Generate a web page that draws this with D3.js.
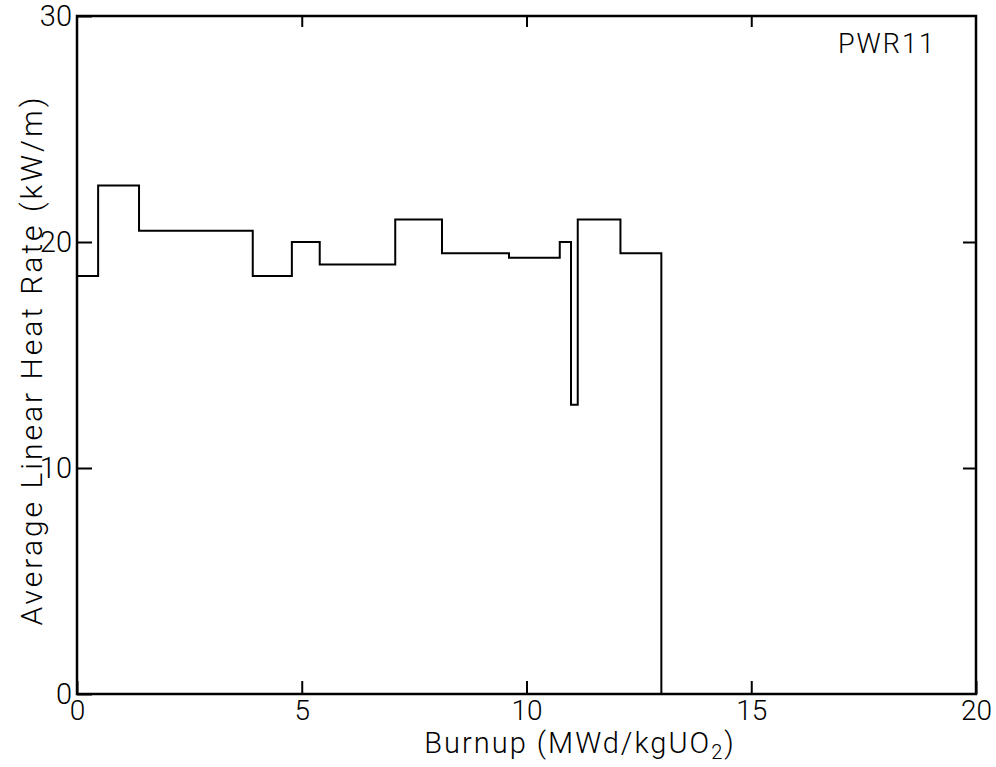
<!DOCTYPE html>
<html>
<head>
<meta charset="utf-8">
<script src="https://cdn.jsdelivr.net/npm/d3@7"></script>
<style>
  body { margin: 0; background: #fff; }
  svg text { font-family: Roboto, "DejaVu Sans", sans-serif; font-weight: 300; fill: #000; }
</style>
</head>
<body>
<svg id="chart" width="996" height="767"></svg>
<script>
// burnup step edges (MWd/kgUO2) and heat rate in each step (kW/m)
const burnupEdges = [0, 0.47, 1.38, 3.91, 4.78, 5.40, 7.08, 8.12, 9.61, 10.74, 10.99, 11.14, 12.09, 13.0];
const heatRates = [18.5, 22.5, 20.5, 18.5, 20.0, 19.0, 21.0, 19.5, 19.3, 20.0, 12.8, 21.0, 19.5];
const xTicks = [0, 5, 10, 15, 20];
const yTicks = [0, 10, 20, 30];

const LEFT = 77, RIGHT = 976, TOP = 16, BOTTOM = 694;

const svg = d3.select('#chart');
const x = d3.scaleLinear().domain([0, 20]).range([LEFT, RIGHT]);
const y = d3.scaleLinear().domain([0, 30]).range([BOTTOM, TOP]);

// bottom axis, ticks pointing up
svg.append('g')
  .attr('transform', 'translate(0,' + BOTTOM + ')')
  .call(d3.axisBottom(x).tickValues(xTicks).tickSize(-13).tickSizeOuter(0).tickPadding(6))
  .call(g => g.select('.domain').remove())
  .call(g => g.selectAll('.tick line').attr('stroke-width', 2))
  .call(g => g.selectAll('.tick text').attr('font-size', 28));

// top axis ticks
svg.append('g')
  .attr('transform', 'translate(0,' + TOP + ')')
  .call(d3.axisTop(x).tickValues(xTicks.slice(1, 4)).tickSize(-11).tickFormat(''))
  .call(g => g.select('.domain').remove())
  .call(g => g.selectAll('.tick line').attr('stroke-width', 2));

// left axis
svg.append('g')
  .attr('transform', 'translate(' + LEFT + ',0)')
  .call(d3.axisLeft(y).tickValues(yTicks).tickSize(-15).tickPadding(20))
  .call(g => g.select('.domain').remove())
  .call(g => g.selectAll('.tick line').attr('stroke-width', 2))
  .call(g => g.selectAll('.tick text').attr('font-size', 29).attr('x', -5));

// right axis ticks
svg.append('g')
  .attr('transform', 'translate(' + RIGHT + ',0)')
  .call(d3.axisRight(y).tickValues(yTicks.slice(1, 3)).tickSize(-13).tickFormat(''))
  .call(g => g.select('.domain').remove())
  .call(g => g.selectAll('.tick line').attr('stroke-width', 2));

// frame
svg.append('rect')
  .attr('x', LEFT).attr('y', TOP)
  .attr('width', RIGHT - LEFT).attr('height', BOTTOM - TOP)
  .attr('fill', 'none').attr('stroke', '#000').attr('stroke-width', 2.5);

// step history
const pts = heatRates.map((v, i) => [burnupEdges[i], v]);
pts.push([burnupEdges[burnupEdges.length - 1], 0]);

const line = d3.line()
  .x(d => x(d[0]))
  .y(d => y(d[1]))
  .curve(d3.curveStepAfter);

svg.append('path')
  .datum(pts)
  .attr('d', line)
  .attr('fill', 'none')
  .attr('stroke', '#000')
  .attr('stroke-width', 2);

// labels
svg.append('text')
  .attr('x', 838).attr('y', 53)
  .attr('font-size', 27)
  .attr('letter-spacing', 2)
  .text('PWR11');

const xt = svg.append('text')
  .attr('x', 580).attr('y', 753)
  .attr('text-anchor', 'middle')
  .attr('font-size', 29)
  .attr('letter-spacing', 2);
xt.append('tspan').text('Burnup (MWd/kgUO');
xt.append('tspan').attr('font-size', 20).attr('dy', 6).text('2');
xt.append('tspan').attr('dy', -6).text(')');

svg.append('text')
  .attr('transform', 'translate(42,' + 360 + ') rotate(-90)')
  .attr('text-anchor', 'middle')
  .attr('font-size', 30)
  .attr('letter-spacing', 3)
  .text('Average Linear Heat Rate (kW/m)');
</script>
</body>
</html>
